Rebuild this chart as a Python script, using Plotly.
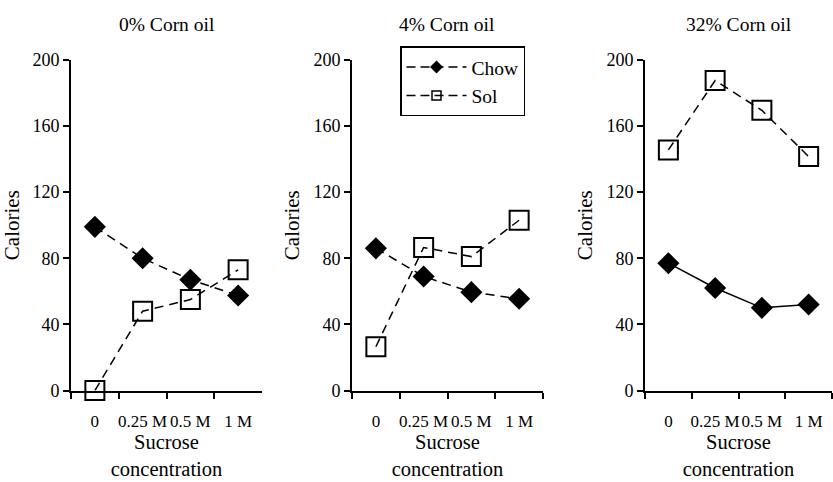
import plotly.graph_objects as go

# Sucrose concentrations offered (x categories)
concentrations = ["0", "0.25 M", "0.5 M", "1 M"]

# Calories eaten, one pair of series per corn-oil level
panel_titles = ["0% Corn oil", "4% Corn oil", "32% Corn oil"]
chow_0 = [99, 80, 67, 57.5]
sol_0 = [0, 48, 55, 73]
chow_4 = [86, 69, 59.5, 55.5]
sol_4 = [26.5, 86.5, 81, 103]
chow_32 = [77, 62, 50, 52]
sol_32 = [145.5, 187.5, 169.5, 141.5]

y_ticks = [0, 40, 80, 120, 160, 200]

FONT = "Times New Roman, Times, serif"
W, H = 833, 482

panels = [
    (chow_0, sol_0, "dash"),
    (chow_4, sol_4, "dash"),
    (chow_32, sol_32, "solid"),
]
# plot-area pixel extents for each panel (left, right)
x_px = [(71, 262), (352, 543), (645, 832)]
y_top_px, y_bot_px = 52, 397
y_dom = [1 - y_bot_px / H, 1 - y_top_px / H]

fig = go.Figure()
DASH = "9px,6px"

for i, (chow, sol, chow_dash) in enumerate(panels):
    n = "" if i == 0 else str(i + 1)
    xa, ya = "x" + n, "y" + n
    fig.add_trace(go.Scatter(
        x=concentrations, y=sol, xaxis=xa, yaxis=ya, mode="lines+markers",
        line=dict(color="black", width=1.5, dash=DASH),
        marker=dict(symbol="square-open", size=19, color="black",
                    line=dict(width=2, color="black")),
        cliponaxis=False, showlegend=False, name="Sol"))
    fig.add_trace(go.Scatter(
        x=concentrations, y=chow, xaxis=xa, yaxis=ya, mode="lines+markers",
        line=dict(color="black", width=1.5,
                  dash=DASH if chow_dash == "dash" else "solid"),
        marker=dict(symbol="diamond", size=17, color="black"),
        cliponaxis=False, showlegend=False, name="Chow"))

    l, r = x_px[i]
    fig.update_layout(**{
        "xaxis" + n: dict(
            domain=[l / W, r / W], type="category", range=[-0.5, 3.5],
            tickson="boundaries", ticks="outside", ticklen=6, tickwidth=2,
            tickcolor="black", showline=True, linewidth=2, linecolor="black",
            showgrid=False, zeroline=False, anchor=ya, tickangle=0,
            ticklabelstandoff=14,
            tickfont=dict(family=FONT, size=17, color="black"),
            title=dict(text="Sucrose<br>concentration",
                       font=dict(family=FONT, size=20.5, color="black"),
                       standoff=0),
        ),
        "yaxis" + n: dict(
            domain=y_dom, range=[0, 200], tickvals=y_ticks,
            ticks="outside", ticklen=6, tickwidth=2, tickcolor="black",
            showline=True, linewidth=2, linecolor="black",
            showgrid=False, zeroline=False, anchor=xa,
            tickfont=dict(family=FONT, size=18, color="black"),
            title=dict(text="Calories",
                       font=dict(family=FONT, size=21, color="black"),
                       standoff=8),
        ),
    })
    fig.add_annotation(
        text=panel_titles[i], xref="paper", yref="paper",
        x=(l + r) / 2 / W, y=1 - 15 / H, showarrow=False,
        xanchor="center", yanchor="middle",
        font=dict(family=FONT, size=19.5, color="black"))

# legend entries drawn with small markers
fig.add_trace(go.Scatter(
    x=[None], y=[None], mode="lines+markers", name="Chow",
    line=dict(color="black", width=1.5, dash="9px,5px"),
    marker=dict(symbol="diamond", size=10, color="black")))
fig.add_trace(go.Scatter(
    x=[None], y=[None], mode="lines+markers", name="Sol",
    line=dict(color="black", width=1.5, dash="9px,5px"),
    marker=dict(symbol="square-open", size=9, color="black",
                line=dict(width=1.5, color="black"))))

fig.update_layout(
    width=W, height=H, margin=dict(l=0, r=0, t=0, b=0),
    paper_bgcolor="white", plot_bgcolor="white",
    font=dict(family=FONT, color="black"),
    legend=dict(x=400 / W, y=1 - 38 / H, xanchor="left", yanchor="top",
                bordercolor="black", borderwidth=1.5, bgcolor="white",
                font=dict(family=FONT, size=19.5, color="black"),
                tracegroupgap=0, itemwidth=60),
)

fig.write_html("out.html")
